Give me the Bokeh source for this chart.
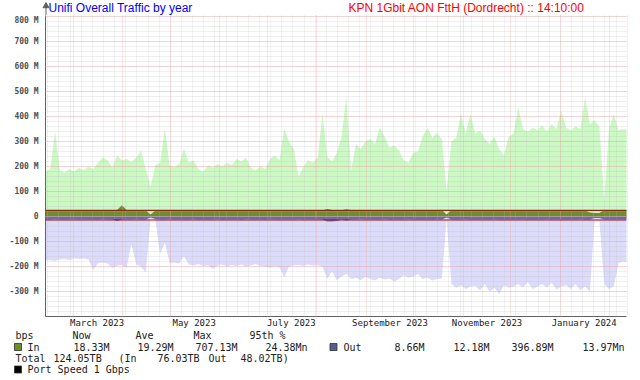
import datetime as dt
from bokeh.plotting import figure
from bokeh.models import Range1d, FixedTicker, Span
from bokeh.core.properties import value
from bokeh.embed import file_html
from bokeh.resources import INLINE

# ---------------- data ----------------
START = dt.datetime(2023, 2, 11, 14, 10)
END = START + dt.timedelta(days=365)
STEP_DAYS = 3

in_max = [180, 190, 340, 185, 175, 190, 180, 195, 185, 200,
          190, 215, 236, 225, 195, 244, 224, 230, 218, 236,
          264, 192, 120, 205, 215, 352, 205, 198, 210, 272,
          215, 225, 190, 178, 205, 195, 210, 200, 215, 205,
          230, 220, 235, 195, 185, 200, 190, 230, 245, 225,
          352, 300, 270, 160, 200, 225, 215, 235, 412, 240,
          220, 255, 320, 480, 185, 290, 270, 300, 310, 290,
          356, 320, 275, 285, 265, 225, 215, 255, 260, 320,
          355, 315, 335, 310, 104, 300, 315, 412, 330, 412,
          330, 345, 310, 290, 320, 270, 245, 320, 330, 436,
          350, 340, 355, 345, 365, 340, 370, 350, 424, 355,
          345, 360, 350, 476, 370, 385, 360, 64, 350, 410,
          345, 350, 348]

in_avg = [26, 25, 26, 26, 24, 26, 26, 25, 26, 22,
          26, 26, 25, 26, 22, 26, 45, 26, 25, 26,
          26, 25, 8, 24, 26, 25, 26, 26, 22, 26,
          26, 25, 26, 26, 24, 22, 26, 26, 25, 26,
          26, 26, 25, 26, 26, 24, 26, 22, 26, 26,
          25, 26, 26, 24, 26, 26, 22, 26, 25, 30,
          26, 26, 25, 29, 26, 26, 24, 26, 25, 26,
          22, 26, 26, 25, 26, 26, 24, 26, 22, 26,
          26, 25, 26, 26, 8, 26, 26, 25, 26, 26,
          24, 26, 26, 25, 26, 22, 26, 26, 25, 26,
          26, 26, 24, 26, 22, 26, 26, 25, 26, 26,
          26, 25, 26, 24, 16, 14, 14, 26, 26, 25,
          26, 26, 26]

out_max = [-176, -175, -178, -172, -170, -174, -168, -170, -168, -172,
           -215, -186, -184, -188, -206, -196, -194, -205, -110, -192,
           -200, -225, -10, -15, -150, -105, -186, -184, -188, -160,
           -192, -196, -190, -198, -195, -210, -196, -192, -200, -194,
           -198, -192, -200, -196, -190, -198, -200, -205, -198, -202,
           -244, -200, -196, -194, -198, -192, -196, -195, -200, -250,
           -220, -255, -240, -230, -250, -245, -255, -242, -250, -256,
           -245, -252, -248, -260, -250, -235, -245, -240, -230, -250,
           -245, -256, -250, -248, -10, -270, -285, -275, -290, -280,
           -278, -295, -270, -300, -285, -310, -275, -285, -280, -270,
           -285, -262, -290, -280, -270, -285, -265, -292, -280, -275,
           -290, -270, -295, -280, -300, -15, -20, -270, -290, -280,
           -186, -180, -185]

out_avg = [-12, -12, -11, -12, -12, -12, -11, -12, -12, -12,
           -12, -12, -11, -12, -12, -18, -12, -12, -12, -11,
           -12, -12, -4, -10, -12, -12, -11, -12, -12, -12,
           -12, -11, -12, -12, -12, -12, -11, -12, -12, -12,
           -12, -12, -11, -12, -12, -12, -12, -11, -12, -12,
           -12, -12, -12, -11, -12, -12, -12, -12, -12, -20,
           -20, -18, -12, -16, -12, -12, -11, -12, -12, -12,
           -12, -11, -12, -12, -12, -12, -11, -12, -12, -12,
           -12, -12, -11, -12, -4, -12, -12, -12, -11, -12,
           -12, -12, -12, -12, -11, -12, -12, -12, -12, -12,
           -11, -12, -12, -12, -12, -11, -12, -12, -12, -12,
           -12, -12, -11, -12, -12, -6, -6, -12, -12, -12,
           -12, -12, -12]

pct95_in = 24.38
pct95_out = -13.97

y_ticks = [-300, -200, -100, 0, 100, 200, 300, 400, 500, 600, 700, 800]
y_minor = list(range(-400, 820, 20))
x_label_dates = [dt.datetime(2023, 3, 16), dt.datetime(2023, 5, 16), dt.datetime(2023, 7, 16),
                 dt.datetime(2023, 9, 16), dt.datetime(2023, 11, 16), dt.datetime(2024, 1, 16)]
x_label_texts = ["March 2023", "May 2023", "July 2023", "September 2023",
                 "November 2023", "January 2024"]
month_starts = [dt.datetime(2023, m, 1) for m in range(3, 13)] + [dt.datetime(2024, 1, 1), dt.datetime(2024, 2, 1)]
week_starts = [dt.datetime(2023, 2, 13) + dt.timedelta(days=7 * k) for k in range(53)]

title_left = "Unifi Overall Traffic by year"
title_right = "KPN 1Gbit AON FttH (Dordrecht) :: 14:10:00"
header = ["bps", "Now", "Ave", "Max", "95th %"]
in_stats = ["18.33M", "19.29M", "707.13M", "24.38Mn"]
out_stats = ["8.66M", "12.18M", "396.89M", "13.97Mn"]
total_parts = ["Total", "124.05TB", "(In", "76.03TB", "Out", "48.02TB)"]
port_text = "Port Speed 1 Gbps"

IN_COLOR = "#6E8E2A"
OUT_COLOR = "#6A6AAE"

# ---------------- helpers ----------------
EPOCH = dt.datetime(1970, 1, 1)


def ms(d):
    return int((d - EPOCH).total_seconds() * 1000)


xs = [ms(START + dt.timedelta(days=STEP_DAYS * i)) for i in range(len(in_max))]
W = 640
TOP_H = 15
FRAME_BOTTOM = 316
MAIN_H = 330 - TOP_H
LEG_H = 380 - TOP_H - MAIN_H
Y_TOP = 800 + (16 - TOP_H) * 4


def bare(fig):
    fig.axis.visible = False
    fig.xgrid.visible = False
    fig.ygrid.visible = False
    fig.outline_line_color = None
    fig.background_fill_color = "white"
    fig.border_fill_color = "white"
    return fig


# ---------------- title strip ----------------
top = bare(figure(width=W, height=TOP_H, output_backend="svg", toolbar_location=None,
                  x_range=Range1d(0, W), y_range=Range1d(TOP_H, 0),
                  min_border=0, min_border_left=0, min_border_right=0,
                  min_border_top=0, min_border_bottom=0))
top.text(x=[48, 348], y=[0.5, 0.5], text=[title_left, title_right],
         text_color=["#0000FF", "#FF0000"],
         text_font=value("Liberation Sans"), text_font_size="12px",
         text_baseline="top", text_align="left")
top.segment(x0=[45.5], y0=[6], x1=[45.5], y1=[TOP_H], line_color="#606060", line_width=1)
top.scatter(x=[45.5], y=[5.5], marker="triangle", size=6, fill_color="#606060", line_color="#606060")

# ---------------- main chart ----------------
p = figure(width=W, height=MAIN_H, output_backend="svg", toolbar_location=None,
           x_range=Range1d(ms(START), ms(END)), y_range=Range1d(-400, Y_TOP),
           min_border_left=45, min_border_right=14, min_border_top=0,
           min_border_bottom=MAIN_H + TOP_H - FRAME_BOTTOM)
p.outline_line_color = None
p.background_fill_color = "white"
p.border_fill_color = "white"

p.varea(x=xs, y1=0, y2=in_max, fill_color="#CCF8C4")
p.varea(x=xs, y1=0, y2=out_max, fill_color="#DCDCFA")
p.varea(x=xs, y1=0, y2=in_avg, fill_color=IN_COLOR)
p.varea(x=xs, y1=0, y2=out_avg, fill_color=OUT_COLOR)

p.add_layout(Span(location=pct95_in, dimension="width", line_color="#8B2A1A", line_width=1.2))
p.add_layout(Span(location=pct95_out, dimension="width", line_color="#A01010", line_width=1.2))

xg = p.xgrid[0]
xg.ticker = FixedTicker(ticks=[ms(d) for d in month_starts], minor_ticks=[ms(d) for d in week_starts])
xg.grid_line_color = "#FF9090"
xg.grid_line_alpha = 0.5
xg.grid_line_dash = "1 1"
xg.minor_grid_line_color = "#B8B8B8"
xg.minor_grid_line_alpha = 0.4
xg.minor_grid_line_dash = "1 1"
xg.level = "guide"

yg = p.ygrid[0]
yg.ticker = FixedTicker(ticks=y_ticks, minor_ticks=y_minor)
yg.grid_line_color = "#FF9090"
yg.grid_line_alpha = 0.55
yg.grid_line_dash = "1 1"
yg.minor_grid_line_color = "#B8B8B8"
yg.minor_grid_line_alpha = 0.45
yg.minor_grid_line_dash = "1 1"
yg.level = "guide"

ya = p.yaxis[0]
ya.ticker = FixedTicker(ticks=y_ticks)
ya.major_label_overrides = {t: ("0" if t == 0 else "%d M" % t) for t in y_ticks}
ya.major_label_text_font = "DejaVu Sans Mono"
ya.major_label_text_font_style = "bold"
ya.major_label_text_font_size = "8px"
ya.major_label_text_color = "#505050"
ya.major_tick_out = 0
ya.major_tick_in = 0
ya.minor_tick_out = 0
ya.minor_tick_in = 0
ya.major_label_standoff = 7
ya.axis_line_color = "#606060"

xa = p.xaxis[0]
xticks = [ms(d) for d in x_label_dates]
xa.ticker = FixedTicker(ticks=xticks)
xa.major_label_overrides = {t: s for t, s in zip(xticks, x_label_texts)}
xa.major_label_text_font = "DejaVu Sans Mono"
xa.major_label_text_font_size = "9px"
xa.major_label_text_color = "#202020"
xa.major_tick_out = 0
xa.major_tick_in = 0
xa.minor_tick_out = 0
xa.minor_tick_in = 0
xa.major_label_standoff = 1
xa.axis_line_color = "#606060"

# ---------------- legend strip ----------------
Y_OFF = TOP_H + MAIN_H
leg = bare(figure(width=W, height=LEG_H, output_backend="svg", toolbar_location=None,
                  x_range=Range1d(0, W), y_range=Range1d(380, Y_OFF),
                  min_border=0, min_border_left=0, min_border_right=0,
                  min_border_top=0, min_border_bottom=0))


def txt(s, x, y):
    leg.text(x=[x], y=[y], text=[s], text_color="#202020",
             text_font=value("DejaVu Sans Mono"), text_font_size="10px",
             text_baseline="middle", text_align="left")


for s, x in zip(header, [15, 72, 135, 193, 249]):
    txt(s, x, 335)
txt("In", 27, 346.5)
for s, x in zip(in_stats, [73, 137, 195, 265]):
    txt(s, x, 346.5)
txt("Out", 343, 346.5)
for s, x in zip(out_stats, [394, 453, 511, 582]):
    txt(s, x, 346.5)
for s, x in zip(total_parts, [15, 53, 118, 157, 208, 240]):
    txt(s, x, 357.5)
txt(port_text, 27, 369)

leg.rect(x=[17.5, 333, 17.5], y=[346.5, 346.5, 369], width=7, height=7,
         fill_color=[IN_COLOR, "#5C5C8C", "#000000"], line_color="#303030", line_width=0.8)

# three stacked roots (kept separate so each strip keeps its own full-width frame)
open("out.html", "w").write(file_html([top, p, leg], INLINE))
